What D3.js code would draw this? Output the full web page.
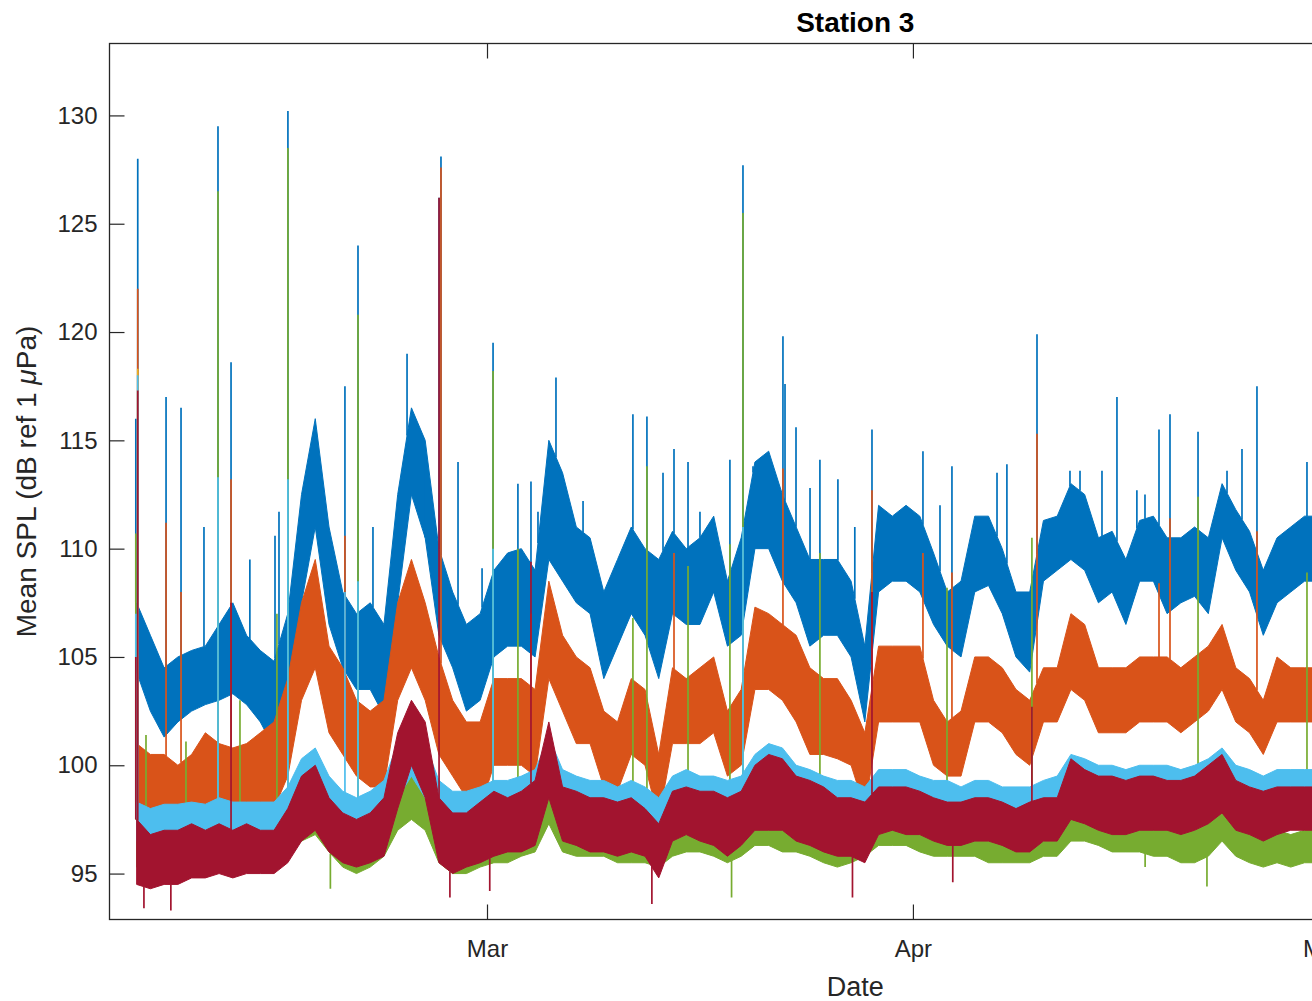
<!DOCTYPE html>
<html>
<head>
<meta charset="utf-8">
<script src="https://cdn.jsdelivr.net/npm/d3@7"></script>
<style>
body { margin: 0; background: #fff; }
text { font-family: "Liberation Sans", Arial, Helvetica, sans-serif; fill: #262626; }
</style>
</head>
<body>
<svg id="chart" width="1312" height="1001"></svg>
<script>
// daily envelope (low / high) of each band, first sample Feb 3 12:00, one per day
const firstDay = 2.5;

const blueLo = [104.3,102.5,101.3,102.0,102.5,102.8,103.0,103.3,102.8,102.0,
    100.8,102.5,107.5,111.0,106.5,104.5,103.5,103.5,102.3,107.5,
    112.5,110.5,106.0,104.5,102.5,103.0,105.0,105.5,105.5,105.0,
    109.5,108.5,107.5,107.0,104.0,105.5,107.0,106.0,104.0,107.0,
    106.5,106.5,108.0,105.5,106.0,110.0,110.0,108.5,107.5,105.5,
    106.0,106.0,105.0,102.0,108.0,108.5,108.5,108.0,106.5,105.5,
    105.0,108.0,108.3,107.0,105.0,104.3,108.5,109.0,109.5,109.0,
    107.5,108.0,106.5,108.5,108.5,107.0,107.5,107.8,107.0,110.5,
    109.0,108.0,106.0,107.5,108.0,108.5,108.5];
const blueHi = [107.5,106.0,104.5,105.0,105.3,105.5,106.5,107.5,106.0,105.3,
    104.8,107.0,112.5,116.0,111.0,108.0,107.0,107.5,106.5,112.5,
    116.5,115.0,110.0,108.0,106.5,107.0,109.0,109.8,110.0,109.0,
    115.0,113.5,111.0,110.5,108.0,109.5,111.0,110.0,109.5,110.8,
    110.0,110.5,111.5,108.5,110.5,114.0,114.5,112.5,111.0,109.5,
    109.5,109.5,108.5,105.5,112.0,111.5,112.0,111.5,109.8,108.0,
    108.5,111.5,111.5,110.0,108.0,108.0,111.3,111.5,113.0,112.5,
    110.5,110.8,109.5,111.3,111.5,110.5,110.5,111.0,110.5,113.0,
    111.8,110.8,109.0,110.5,111.0,111.5,111.5];

const orangeLo = [97.5,97.5,97.5,97.3,97.5,97.8,97.5,97.3,97.5,98.0,
    98.0,99.5,103.0,104.5,101.5,100.5,99.5,99.0,99.0,103.0,
    104.5,103.0,100.5,99.5,98.5,98.0,100.0,100.0,100.0,99.5,
    104.0,102.5,101.0,101.0,99.0,98.8,100.5,100.0,97.5,101.0,
    101.0,101.0,101.5,99.5,100.0,103.5,103.5,103.0,102.0,100.5,
    100.5,100.3,100.0,98.0,102.0,102.0,102.0,102.0,100.0,99.5,
    99.5,102.0,102.0,101.5,100.5,100.0,102.0,102.0,103.5,103.0,
    101.5,101.5,101.5,102.0,102.0,102.0,101.5,102.0,102.5,103.5,
    102.0,101.5,100.5,102.0,102.0,102.0,102.0];
const orangeHi = [101.0,100.5,100.5,100.0,100.5,101.5,101.0,100.8,101.0,101.5,
    102.0,104.0,107.5,109.5,105.5,104.5,103.0,102.5,103.0,107.5,
    109.5,107.5,105.0,103.0,102.0,102.0,104.0,104.0,104.0,103.5,
    108.5,106.0,105.0,104.5,102.5,102.0,104.0,103.5,100.5,104.5,
    104.0,104.5,105.0,102.5,103.5,107.3,107.0,106.5,106.0,104.5,
    104.0,104.0,103.0,101.5,105.5,105.5,105.5,105.5,103.0,102.0,
    102.5,105.0,105.0,104.5,103.5,103.0,104.5,104.5,107.0,106.5,
    104.5,104.5,104.5,105.0,105.0,105.0,104.5,105.0,105.5,106.5,
    104.5,104.0,103.0,105.0,104.5,104.5,104.5];

const greenLo = [95.3,95.5,95.5,95.8,95.8,95.5,95.5,95.5,95.5,95.5,
    95.5,95.8,96.5,96.8,96.0,95.3,95.0,95.3,95.8,97.0,
    97.5,97.0,95.5,95.0,95.0,95.3,95.5,95.5,95.8,96.0,
    97.3,96.0,95.8,95.8,95.8,95.5,95.5,95.5,95.3,95.8,
    96.0,96.0,95.8,95.5,95.8,96.3,96.3,96.0,96.0,95.8,
    95.5,95.3,95.5,95.8,96.3,96.3,96.3,96.0,95.8,95.8,
    95.8,95.8,95.5,95.5,95.5,95.5,95.8,95.8,96.5,96.5,
    96.3,96.0,96.0,96.0,95.8,95.8,95.5,95.5,95.8,96.5,
    95.8,95.5,95.3,95.5,95.3,95.5,95.5];
const greenHi = [97.5,97.8,97.8,98.0,98.0,97.8,97.5,97.5,97.5,97.5,
    97.3,97.8,98.5,99.0,98.0,97.3,97.0,97.0,97.8,99.0,
    99.5,99.0,97.5,97.0,97.0,97.0,97.3,97.3,97.5,98.0,
    99.5,97.8,97.3,97.3,97.3,97.0,97.0,97.0,96.8,97.3,
    97.5,97.5,97.3,97.0,97.3,98.0,98.0,97.8,97.5,97.3,
    97.0,96.8,97.0,97.3,97.8,97.8,97.8,97.5,97.3,97.0,
    97.0,97.3,97.0,97.0,97.0,96.8,97.3,97.3,98.3,98.0,
    97.8,97.5,97.5,97.5,97.5,97.3,97.0,97.0,97.3,98.0,
    97.3,97.0,96.8,97.0,96.8,97.0,97.0];

const cyanLo = [96.5,96.3,96.5,96.5,96.5,96.5,96.8,96.5,96.8,96.8,
    96.8,97.0,98.0,98.5,97.5,97.0,97.0,97.0,97.3,98.5,
    99.5,98.5,97.3,97.0,97.0,97.3,97.5,97.8,97.8,98.0,
    99.0,98.0,97.8,97.8,97.8,97.5,97.8,97.5,96.8,98.0,
    98.0,98.0,97.8,97.5,98.0,98.5,98.8,98.5,98.0,97.8,
    97.8,97.5,97.5,97.3,98.0,98.3,98.3,98.0,97.8,97.8,
    97.8,97.8,97.8,97.8,97.5,97.5,97.8,98.0,98.5,98.5,
    98.3,98.3,98.0,98.3,98.3,98.3,98.0,98.3,98.5,98.8,
    98.3,98.0,97.8,98.0,98.0,98.0,98.0];
const cyanHi = [98.3,98.0,98.2,98.2,98.3,98.2,98.5,98.3,98.3,98.3,
    98.3,99.0,100.3,100.8,99.5,98.8,98.5,98.8,99.3,101.0,
    101.8,101.0,99.3,98.8,98.8,99.0,99.3,99.3,99.5,99.8,
    101.3,99.8,99.5,99.3,99.3,99.0,99.3,99.0,98.5,99.5,
    99.8,99.5,99.5,99.3,99.5,100.5,101.0,100.8,100.0,99.8,
    99.5,99.3,99.3,99.0,99.8,99.8,99.8,99.5,99.3,99.3,
    99.0,99.3,99.3,99.0,99.0,99.0,99.3,99.5,100.5,100.3,
    100.0,100.0,99.8,100.0,100.0,100.0,99.8,100.0,100.3,100.8,
    100.0,99.8,99.5,99.8,99.8,99.8,99.8];

const redLo = [94.5,94.3,94.5,94.5,94.8,94.8,95.0,94.8,95.0,95.0,
    95.0,95.5,96.5,97.0,96.0,95.5,95.3,95.5,95.8,98.0,
    100.0,98.5,95.5,95.0,95.3,95.5,95.8,96.0,96.0,96.3,
    98.5,96.5,96.3,96.0,96.0,95.8,96.0,95.8,94.8,96.5,
    96.8,96.5,96.3,95.8,96.3,97.0,97.0,97.0,96.5,96.3,
    96.0,95.8,95.8,95.5,96.8,97.0,96.8,96.8,96.5,96.3,
    96.3,96.5,96.5,96.3,96.0,96.0,96.5,96.5,97.5,97.3,
    97.0,96.8,96.8,97.0,97.0,97.0,96.8,97.0,97.3,97.8,
    97.0,96.8,96.5,96.8,97.0,97.0,97.0];
const redHi = [97.5,96.8,97.0,97.0,97.3,97.0,97.3,97.0,97.3,97.0,
    97.0,98.0,99.5,100.0,98.5,97.8,97.5,97.8,98.5,101.5,
    103.0,102.0,98.5,97.8,97.8,98.3,98.8,98.5,98.8,99.3,
    102.0,99.0,98.8,98.5,98.5,98.3,98.5,98.0,97.3,98.8,
    99.0,98.8,98.8,98.5,98.8,100.0,100.5,100.3,99.5,99.3,
    99.0,98.5,98.5,98.3,99.0,99.0,99.0,98.8,98.5,98.3,
    98.3,98.5,98.5,98.3,98.0,98.3,98.5,98.5,100.3,99.8,
    99.5,99.5,99.3,99.5,99.5,99.3,99.3,99.5,100.0,100.5,
    99.3,99.0,98.8,99.0,99.0,99.0,99.0];

// short events: [day since Feb 1, peak dB]
const blueSpikes = [[2.44,116],[2.58,128],[4.64,117],[5.73,116.5],[7.40,111],[8.42,129.5],
    [9.37,118.6],[10.74,109.5],[12.57,110.6],[12.86,111.7],[13.51,130.2],[17.66,117.5],
    [18.61,124],[19.70,111],[22.18,119],[23.49,114.2],[24.51,126.2],[24.65,128.1],
    [25.89,114],[27.64,109.1],[28.44,119.5],[30.25,113],[31.20,113.1],[31.71,111.7],
    [33.02,117.9],[34.99,112.2],[38.62,116.2],[39.64,116.1],[40.81,113.5],[41.61,114.6],
    [42.63,114],[43.50,111.7],[45.68,114.1],[46.63,127.7],[47.36,113.8],[49.54,119.8],
    [49.69,117.6],[50.49,115.6],[51.51,112.8],[52.23,114.1],[53.54,113.2],[54.77,111],
    [56.02,115.5],[59.73,114.5],[60.97,112],[61.84,113.8],[65.12,113.5],[65.84,113.9],
    [68.03,119.9],[70.43,113.6],[71.16,113.6],[72.76,113.6],[73.85,117],[75.30,112.7],
    [75.89,112.5],[76.91,115.5],[77.71,116.2],[79.75,115.4],[81.86,113.6],[82.95,114.6],
    [84.04,117.5],[87.68,114]];
const orangeSpikes = [[2.58,122],[4.64,111.2],[5.73,108],[8.42,108],[9.37,113.2],[17.66,110.6],
    [24.65,127.6],[31.20,107],[41.61,109.8],[49.54,113.7],[56.02,112.7],[59.73,109.8],
    [61.84,108.9],[68.03,115.3],[76.91,108.4],[77.71,111.4],[84.04,110.8]];
const yellowSpikes = [[2.58,118.3]];
const greenSpikes = [[2.44,110.7],[3.18,101.4],[6.09,101.1],[8.42,126.5],[10.02,103],[12.71,107],
    [13.51,128.5],[16.6,94.3],[18.61,120.8],[28.44,118.2],[30.25,110],[38.62,106.8],
    [39.64,113.8],[42.63,109.2],[45.68,110.2],[45.8,93.9],[46.63,125.5],[52.23,109.8],
    [61.48,108.2],[67.66,110.5],[75.9,95.3],[79.75,112.4],[80.4,94.4],[87.68,108.9]];
const cyanSpikes = [[2.44,107],[2.58,118],[8.42,113.3],[13.51,113.2],[17.66,108],[18.61,108.5],
    [28.44,110],[46.63,111]];
const redSpikes = [[2.44,105],[2.58,117.3],[3.03,93.4],[4.99,93.3],[9.37,107.5],[24.51,126.2],
    [25.3,93.9],[28.2,94.2],[31.20,109.4],[40.0,93.6],[54.6,93.9],[56.02,108],
    [61.9,94.6],[67.66,102.7]];

const yTicks = [95, 100, 105, 110, 115, 120, 125, 130];

const plotLeft = 109.5, plotTop = 43.5, plotRight = 1601, plotBottom = 919.5;
const startDate = new Date(2019, 1, 1);

function dayToDate(d) {
    return new Date(startDate.getTime() + d * 864e5);
}

const x = d3.scaleTime()
    .domain([dayToDate(0.524), dayToDate(109.08)])
    .range([plotLeft, plotRight]);

const y = d3.scaleLinear()
    .domain([92.88, 133.32])
    .range([plotBottom, plotTop]);

const svg = d3.select("#chart");

svg.append("rect")
    .attr("width", 1312)
    .attr("height", 1001)
    .attr("fill", "#fff");

svg.append("clipPath")
    .attr("id", "plotclip")
    .append("rect")
    .attr("x", plotLeft)
    .attr("y", plotTop)
    .attr("width", plotRight - plotLeft)
    .attr("height", plotBottom - plotTop);

const plot = svg.append("g").attr("clip-path", "url(#plotclip)");

const series = [
    {color: "#0072BD", lo: blueLo, hi: blueHi, spikes: blueSpikes},
    {color: "#D95319", lo: orangeLo, hi: orangeHi, spikes: orangeSpikes},
    {color: "#EDB120", lo: cyanLo, hi: cyanHi, spikes: yellowSpikes, noBand: true},
    {color: "#77AC30", lo: greenLo, hi: greenHi, spikes: greenSpikes},
    {color: "#4DBEEE", lo: cyanLo, hi: cyanHi, spikes: cyanSpikes},
    {color: "#A2142F", lo: redLo, hi: redHi, spikes: redSpikes}
];

const area = d3.area()
    .x(function(d) { return x(d.t); })
    .y0(function(d) { return y(d.lo); })
    .y1(function(d) { return y(d.hi); });

series.forEach(function(s) {
    const pts = s.hi.map(function(v, i) {
        return {t: dayToDate(firstDay + i), lo: s.lo[i], hi: v};
    });

    if (!s.noBand) {
        plot.append("path")
            .datum(pts)
            .attr("d", area)
            .attr("fill", s.color)
            .attr("stroke", s.color)
            .attr("stroke-width", 1)
            .attr("stroke-linejoin", "round");
    }

    // spikes start from the band edge at that time
    const times = pts.map(function(p) { return +p.t; });
    const hiAt = d3.scaleLinear().domain(times).range(s.hi).clamp(true);
    const loAt = d3.scaleLinear().domain(times).range(s.lo).clamp(true);

    plot.append("g")
        .selectAll("line")
        .data(s.spikes)
        .enter().append("line")
        .attr("x1", function(d) { return x(dayToDate(d[0])); })
        .attr("x2", function(d) { return x(dayToDate(d[0])); })
        .attr("y1", function(d) {
            const t = +dayToDate(d[0]);
            return d[1] > hiAt(t) ? y(hiAt(t)) : y(loAt(t));
        })
        .attr("y2", function(d) { return y(d[1]); })
        .attr("stroke", s.color)
        .attr("stroke-width", 1.7);
});

// axes, MATLAB style: ticks inside, box around
const yAxis = d3.axisLeft(y).tickValues(yTicks).tickSize(-15).tickSizeOuter(0).tickPadding(12);
const xAxis = d3.axisBottom(x).ticks(d3.timeMonth.every(1)).tickFormat(d3.timeFormat("%b"))
    .tickSize(-15).tickSizeOuter(0).tickPadding(20);
const xTop = d3.axisTop(x).ticks(d3.timeMonth.every(1)).tickFormat("").tickSize(-15).tickSizeOuter(0);
const yRight = d3.axisRight(y).tickValues(yTicks).tickFormat("").tickSize(-15).tickSizeOuter(0);

function styleAxis(g) {
    g.select(".domain").remove();
    g.selectAll(".tick line").attr("stroke", "#262626").attr("stroke-width", 1.2);
    g.selectAll(".tick text").attr("fill", "#262626").style("font-size", "24px")
        .style("font-family", "'Liberation Sans', Arial, sans-serif");
}

svg.append("g").attr("transform", "translate(" + plotLeft + ",0)").call(yAxis).call(styleAxis);
svg.append("g").attr("transform", "translate(0," + plotBottom + ")").call(xAxis).call(styleAxis);
svg.append("g").attr("transform", "translate(0," + plotTop + ")").call(xTop).call(styleAxis);
svg.append("g").attr("transform", "translate(" + plotRight + ",0)").call(yRight).call(styleAxis);

svg.append("rect")
    .attr("x", plotLeft)
    .attr("y", plotTop)
    .attr("width", plotRight - plotLeft)
    .attr("height", plotBottom - plotTop)
    .attr("fill", "none")
    .attr("stroke", "#262626")
    .attr("stroke-width", 1.3);

svg.append("text")
    .attr("x", (plotLeft + plotRight) / 2)
    .attr("y", 32)
    .attr("text-anchor", "middle")
    .style("font-size", "28px")
    .style("font-weight", "bold")
    .style("fill", "#000")
    .text("Station 3");

svg.append("text")
    .attr("x", (plotLeft + plotRight) / 2)
    .attr("y", 996)
    .attr("text-anchor", "middle")
    .style("font-size", "27px")
    .text("Date");

const ylab = svg.append("text")
    .attr("transform", "translate(36," + ((plotTop + plotBottom) / 2) + ") rotate(-90)")
    .attr("text-anchor", "middle")
    .style("font-size", "28px");
ylab.append("tspan").text("Mean SPL (dB ref 1 ");
ylab.append("tspan").style("font-style", "italic").text("\u03bc");
ylab.append("tspan").text("Pa)");
</script>
</body>
</html>
